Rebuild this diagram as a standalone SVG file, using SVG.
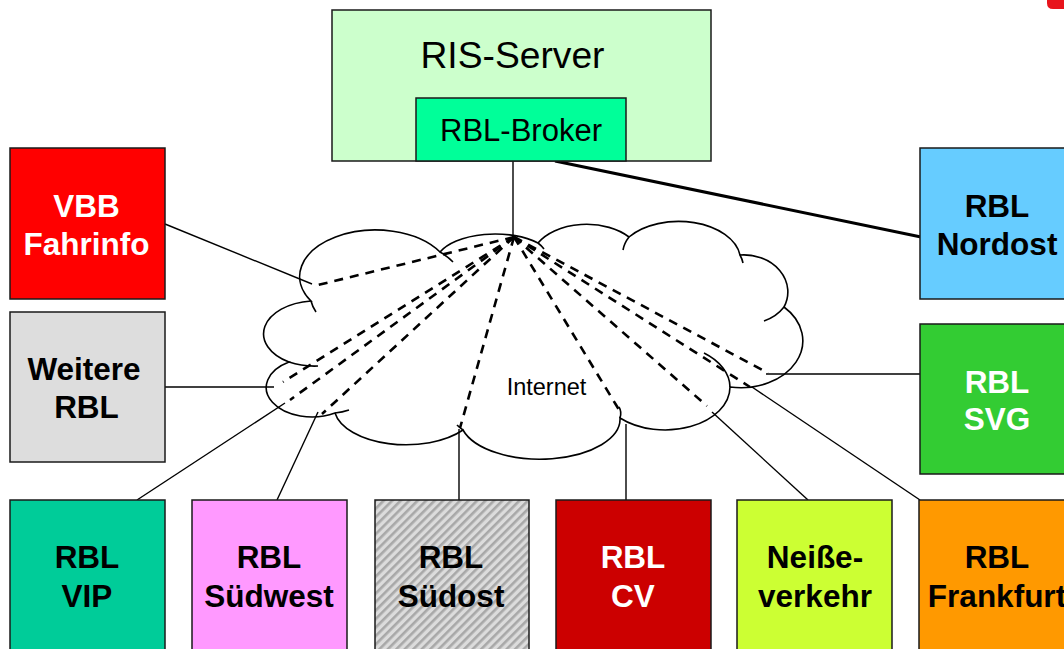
<svg xmlns="http://www.w3.org/2000/svg" width="1064" height="649" viewBox="0 0 1064 649">
<style>
.box{stroke:#1a1a1a;stroke-width:1.5}
.lbl{font-family:"Liberation Sans",Arial,sans-serif;font-size:31.5px;font-weight:bold;text-anchor:middle}
.reg{font-family:"Liberation Sans",Arial,sans-serif;text-anchor:middle;fill:#000}
.w{fill:#fff}
.k{fill:#000}
.solid{stroke:#000;stroke-width:1.4;fill:none}
.dash{stroke:#000;stroke-width:2.6;fill:none;stroke-dasharray:9 7}
.cloud{fill:#fff;stroke:#000;stroke-width:1.6}
.hook{fill:none;stroke:#000;stroke-width:1.6}
</style>
<defs>
<pattern id="hatch" width="6" height="6" patternUnits="userSpaceOnUse" patternTransform="rotate(45)">
<rect width="6" height="6" fill="#dcdcdc"/>
<rect width="2.6" height="6" fill="#a8a8a8"/>
</pattern>
</defs>
<rect width="1064" height="649" fill="#fff"/>
<path d="M1047 0 H1064 V9 H1053 Q1047 9 1047 3 Z" fill="#e8141c"/>

<g id="cloud">
<path class="cloud" d="M289 362 A53 33 0 0 1 311 301 A75 46 0 0 1 440 252 A60 30 0 0 1 538 243 A55 35 0 0 1 629 237 A62 39 0 0 1 740 255 A44 37 0 0 1 784 307 A62 47 0 0 1 730 387 A65 43 0 0 1 620 418 A80 40 0 0 1 463 430 A72 38 0 0 1 335 413 A45 29 0 0 1 289 362 Z"/>
<path class="hook" d="M311 301 A75 46 0 0 0 316 312"/>
<path class="hook" d="M440 252 A75 46 0 0 1 453 262"/>
<path class="hook" d="M538 243 A60 30 0 0 1 544 249"/>
<path class="hook" d="M629 237 A62 39 0 0 0 623 250"/>
<path class="hook" d="M740 255 A62 39 0 0 1 743 263"/>
<path class="hook" d="M784 307 A44 37 0 0 1 764 321"/>
<path class="hook" d="M730 387 A65 43 0 0 0 704 353"/>
<path class="hook" d="M620 418 Q622 412 619 407"/>
<path class="hook" d="M463 430 A80 40 0 0 1 457 425"/>
<path class="hook" d="M335 413 A45 29 0 0 0 349 410"/>
<path class="hook" d="M289 362 A53 33 0 0 0 318 366"/>
<text class="reg" x="546.5" y="395" font-size="23.5">Internet</text>
</g>

<g id="connectors">
<line class="solid" x1="513" y1="161" x2="513" y2="237"/>
<line x1="555" y1="161" x2="921" y2="237" stroke="#000" stroke-width="3"/>
<line class="solid" x1="165" y1="224" x2="312" y2="284"/>
<line class="solid" x1="165" y1="387" x2="274" y2="387"/>
<line class="solid" x1="137" y1="500" x2="285" y2="403"/>
<line class="solid" x1="277" y1="500" x2="318" y2="412"/>
<line class="solid" x1="459" y1="500" x2="459" y2="429"/>
<line class="solid" x1="626" y1="500" x2="626" y2="424"/>
<line class="solid" x1="808" y1="500" x2="712" y2="412"/>
<line class="solid" x1="920" y1="500" x2="752" y2="387"/>
<line class="solid" x1="920" y1="374" x2="766" y2="374"/>
<line class="dash" x1="514" y1="237" x2="318" y2="285"/>
<line class="dash" x1="514" y1="237" x2="283" y2="382"/>
<line class="dash" x1="514" y1="237" x2="290" y2="400"/>
<line class="dash" x1="514" y1="237" x2="322" y2="414"/>
<line class="dash" x1="514" y1="237" x2="460" y2="428"/>
<line class="dash" x1="514" y1="237" x2="621" y2="413"/>
<line class="dash" x1="514" y1="237" x2="707" y2="406"/>
<line class="dash" x1="514" y1="237" x2="750" y2="387"/>
<line class="dash" x1="514" y1="237" x2="768" y2="373"/>
</g>

<g id="ris-server">
<rect class="box" x="332" y="10" width="379" height="151" fill="#ccffcc"/>
<text class="reg" x="512.5" y="68" font-size="36.5" textLength="184" lengthAdjust="spacingAndGlyphs">RIS-Server</text>
</g>
<g id="rbl-broker">
<rect class="box" x="416" y="98" width="210" height="63" fill="#00ff99"/>
<text class="reg" x="521" y="141" font-size="31">RBL-Broker</text>
</g>

<g id="vbb-fahrinfo">
<rect class="box" x="10" y="148" width="155" height="151" fill="#ff0000"/>
<text class="lbl w" x="86.5" y="217">VBB</text>
<text class="lbl w" x="86.5" y="255">Fahrinfo</text>
</g>
<g id="weitere-rbl">
<rect class="box" x="10" y="312" width="155" height="150" fill="#dddddd"/>
<text class="lbl k" x="84" y="380">Weitere</text>
<text class="lbl k" x="86.5" y="418">RBL</text>
</g>
<g id="rbl-nordost">
<rect class="box" x="920" y="148" width="156" height="151" fill="#66ccff"/>
<text class="lbl k" x="997" y="217">RBL</text>
<text class="lbl k" x="997" y="255">Nordost</text>
</g>
<g id="rbl-svg">
<rect class="box" x="920" y="324" width="156" height="150" fill="#33cc33"/>
<text class="lbl w" x="997" y="393">RBL</text>
<text class="lbl w" x="997" y="430">SVG</text>
</g>
<g id="rbl-vip">
<rect class="box" x="10" y="500" width="155" height="170" fill="#00cc99"/>
<text class="lbl k" x="87" y="568">RBL</text>
<text class="lbl k" x="87" y="607">VIP</text>
</g>
<g id="rbl-suedwest">
<rect class="box" x="192" y="500" width="155" height="170" fill="#ff99ff"/>
<text class="lbl k" x="269" y="568">RBL</text>
<text class="lbl k" x="269" y="607">Südwest</text>
</g>
<g id="rbl-suedost">
<rect class="box" x="375" y="500" width="154" height="170" fill="url(#hatch)"/>
<text class="lbl k" x="451" y="568">RBL</text>
<text class="lbl k" x="451" y="607">Südost</text>
</g>
<g id="rbl-cv">
<rect class="box" x="556" y="500" width="155" height="170" fill="#cc0000"/>
<text class="lbl w" x="633" y="568">RBL</text>
<text class="lbl w" x="633" y="607">CV</text>
</g>
<g id="neisseverkehr">
<rect class="box" x="737" y="500" width="155" height="170" fill="#ccff33"/>
<text class="lbl k" x="815" y="568">Neiße-</text>
<text class="lbl k" x="815" y="607">verkehr</text>
</g>
<g id="rbl-frankfurt">
<rect class="box" x="919" y="500" width="157" height="170" fill="#ff9900"/>
<text class="lbl k" x="997" y="568">RBL</text>
<text class="lbl k" x="997" y="607">Frankfurt</text>
</g>
</svg>
